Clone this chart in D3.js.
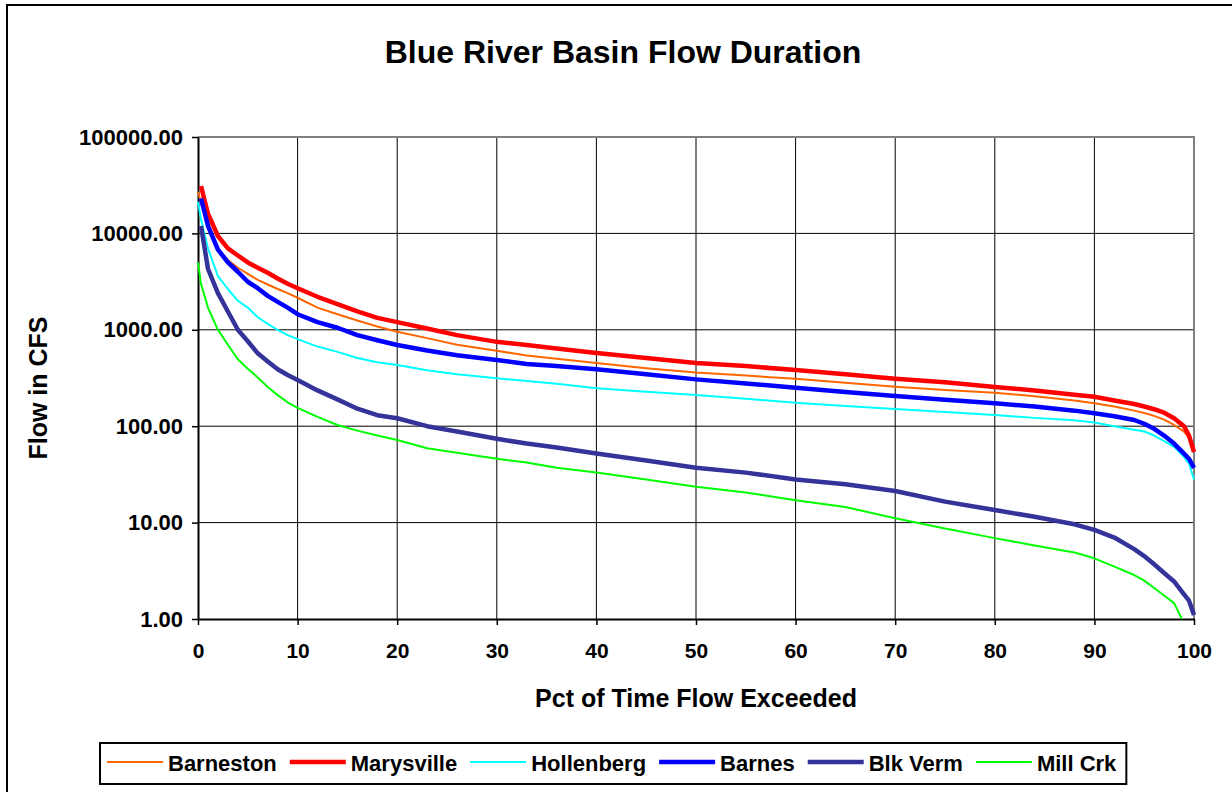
<!DOCTYPE html>
<html>
<head>
<meta charset="utf-8">
<style>
  body { margin: 0; background: #fff; }
  text { font-family: Arial, "Liberation Sans", sans-serif; font-weight: bold; fill: #000; }
</style>
</head>
<body>
<svg id="chart"></svg>
<script src="https://cdn.jsdelivr.net/npm/d3@7"></script>
<script>
// percent of time exceeded
const pct = [0, 0.3, 1, 2, 3, 4, 5, 6, 7, 8, 9, 10, 12, 14, 16, 18, 20, 23, 26, 30, 33, 36, 40,
             45, 50, 55, 60, 65, 70, 75, 80, 84, 88, 90, 92, 94, 95, 96, 97, 98, 99, 99.5, 100];

const barneston  = [27000, 21000, 13000, 7000, 5300, 4400, 3800, 3300, 2950, 2650, 2400, 2150, 1700, 1450, 1250, 1080, 955, 820, 700, 607, 540, 500, 453,
                    400, 360, 335, 310, 282, 257, 238, 222, 205, 185, 173, 160, 145, 137, 128, 117, 103, 88, 75, 60];
const marysville = [null, 31000, 16000, 9400, 7000, 5900, 5000, 4400, 3900, 3400, 3000, 2700, 2200, 1850, 1550, 1330, 1200, 1030, 880, 750, 695, 640, 575,
                    510, 453, 420, 383, 345, 310, 285, 255, 235, 212, 202, 185, 170, 160, 150, 138, 121, 100, 80, 54];
const hollenberg = [21300, 14000, 7000, 3600, 2650, 2000, 1700, 1350, 1150, 1000, 880, 800, 670, 590, 510, 460, 431, 380, 345, 314, 294, 275, 247,
                    228, 211, 193, 175, 162, 151, 140, 131, 122, 115, 109, 100, 92, 88, 80, 70, 61, 48, 41, 28];
const barnes     = [null, 23000, 12000, 6800, 5000, 4000, 3150, 2700, 2250, 1950, 1700, 1450, 1200, 1050, 880, 780, 695, 610, 545, 486, 442, 420, 389,
                    345, 306, 278, 250, 226, 206, 188, 173, 160, 145, 136, 127, 116, 106, 94, 80, 66, 52, 46, 37];
const blkVerm    = [null, 12000, 4300, 2400, 1550, 1000, 760, 570, 470, 390, 340, 302, 235, 190, 152, 130, 121, 100, 88, 74, 66, 60, 52,
                    44, 37, 33, 28, 25, 21.3, 16.5, 13.5, 11.5, 9.6, 8.4, 7.0, 5.3, 4.5, 3.7, 3.0, 2.45, 1.8, 1.55, 1.1];
const millCrk    = [5000, 3000, 1700, 1000, 700, 495, 395, 320, 255, 210, 177, 155, 125, 103, 90, 80, 72, 59, 53, 46, 42, 37, 33,
                    28, 23.6, 20.5, 17.1, 14.5, 11.1, 8.7, 6.9, 5.8, 4.9, 4.26, 3.5, 2.86, 2.5, 2.1, 1.75, 1.46, 0.9, null, null];

const names  = ["Barneston", "Marysville", "Hollenberg", "Barnes", "Blk Verm", "Mill Crk"];
const values = [barneston, marysville, hollenberg, barnes, blkVerm, millCrk];
const colors = ["#FF6600", "#FF0000", "#00FFFF", "#0000FF", "#333399", "#00FF00"];
const widths = [2, 4.5, 2, 4.5, 4.5, 2];

const xTicks = d3.range(0, 101, 10);
const yTicks = [1, 10, 100, 1000, 10000, 100000];

let width = 1232, height = 792;
let plotLeft = 198, plotRight = 1194, plotTop = 137, plotBottom = 619;

let svg = d3.select("#chart").attr("width", width).attr("height", height);

// chart area frame
svg.append("rect")
    .attr("x", 7).attr("y", 5)
    .attr("width", 1240).attr("height", 800)
    .attr("fill", "#fff").attr("stroke", "#000").attr("stroke-width", 2);

let x = d3.scaleLinear().domain([0, 100]).range([plotLeft, plotRight]);
let y = d3.scaleLog().domain([1, 100000]).range([plotBottom, plotTop]);

// gridlines
let grid = svg.append("g");
grid.selectAll(".vg")
    .data(xTicks.filter(d => d > 0 && d < 100))
    .enter().append("line")
    .attr("x1", d => x(d)).attr("x2", d => x(d))
    .attr("y1", plotTop).attr("y2", plotBottom)
    .attr("stroke", "#000").attr("stroke-width", 1);
grid.selectAll(".hg")
    .data(yTicks.filter(d => d > 1 && d < 100000))
    .enter().append("line")
    .attr("x1", plotLeft).attr("x2", plotRight)
    .attr("y1", d => y(d)).attr("y2", d => y(d))
    .attr("stroke", "#000").attr("stroke-width", 1);

// plot area border (top / right)
svg.append("path")
    .attr("d", `M${plotLeft},${plotTop}H${plotRight}V${plotBottom}`)
    .attr("fill", "none").attr("stroke", "#808080").attr("stroke-width", 2);

// axes
let yAxis = svg.append("g")
    .attr("transform", `translate(${plotLeft},0)`)
    .call(d3.axisLeft(y).tickValues(yTicks).tickFormat(d3.format(".2f"))
        .tickSize(6).tickSizeOuter(0).tickPadding(9));
yAxis.attr("font-size", 22);

let xAxis = svg.append("g")
    .attr("transform", `translate(0,${plotBottom})`)
    .call(d3.axisBottom(x).tickValues(xTicks).tickSize(6).tickSizeOuter(0).tickPadding(18));
xAxis.attr("font-size", 21);

svg.selectAll(".domain").attr("stroke", "#000").attr("stroke-width", 2);
svg.selectAll(".tick line").attr("stroke", "#000").attr("stroke-width", 1.5);

// series
svg.append("clipPath").attr("id", "clip")
    .append("rect").attr("x", plotLeft - 6).attr("y", plotTop - 8)
    .attr("width", plotRight - plotLeft + 12).attr("height", plotBottom - plotTop + 8);

let line = d3.line()
    .defined(d => d[1] != null)
    .x(d => x(d[0]))
    .y(d => y(d[1]));

let series = svg.append("g").attr("clip-path", "url(#clip)");
values.forEach((vals, i) => {
    series.append("path")
        .datum(pct.map((p, j) => [p, vals[j]]))
        .attr("d", line)
        .attr("fill", "none")
        .attr("stroke", colors[i])
        .attr("stroke-width", widths[i])
        .attr("stroke-linejoin", "round");
});

// titles
svg.append("text")
    .attr("x", 623).attr("y", 63)
    .attr("text-anchor", "middle")
    .attr("font-size", 32)
    .text("Blue River Basin Flow Duration");

svg.append("text")
    .attr("x", (plotLeft + plotRight) / 2).attr("y", 707)
    .attr("text-anchor", "middle")
    .attr("font-size", 25)
    .text("Pct of Time Flow Exceeded");

svg.append("text")
    .attr("transform", `translate(47,${(plotTop + plotBottom) / 2 + 10}) rotate(-90)`)
    .attr("text-anchor", "middle")
    .attr("font-size", 25)
    .text("Flow in CFS");

// legend
let legend = svg.append("g");
let legendBox = legend.append("rect")
    .attr("y", 743).attr("height", 41)
    .attr("fill", "#fff").attr("stroke", "#000").attr("stroke-width", 2);

let lx = 107;
names.forEach((name, i) => {
    legend.append("line")
        .attr("x1", lx).attr("x2", lx + 56)
        .attr("y1", 762).attr("y2", 762)
        .attr("stroke", colors[i]).attr("stroke-width", widths[i]);
    let t = legend.append("text")
        .attr("x", lx + 61).attr("y", 771)
        .attr("font-size", 22)
        .text(name);
    lx += 61 + t.node().getComputedTextLength() + 13;
});
let boxRight = lx - 13 + 10;
legendBox.attr("x", 100).attr("width", boxRight - 100);
</script>
</body>
</html>
